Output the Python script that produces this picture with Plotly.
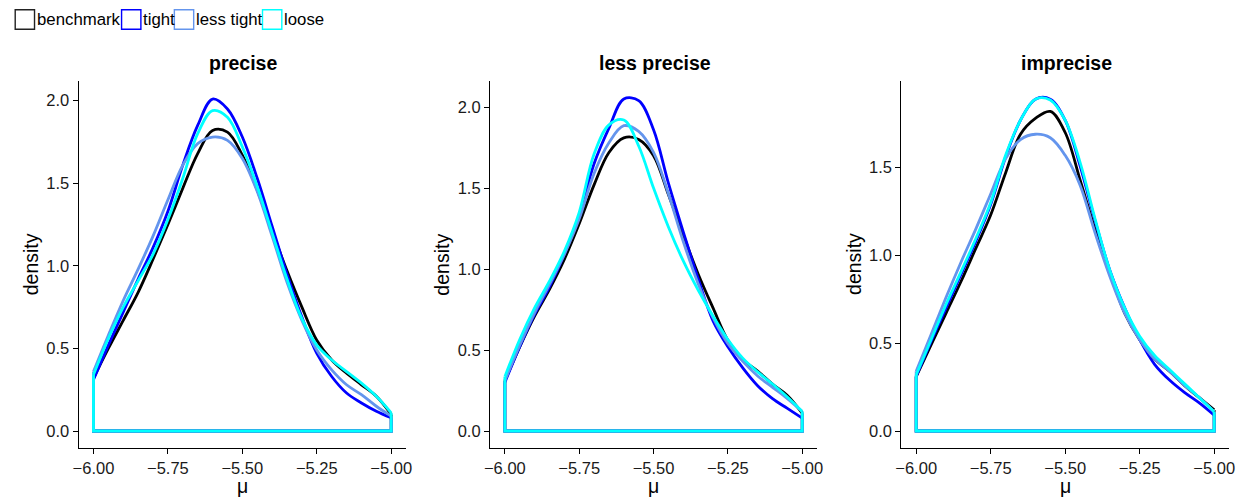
import plotly.graph_objects as go

# ---------------- data ----------------
mu_grid = [-6.00, -5.95, -5.90, -5.85, -5.80, -5.75, -5.70, -5.65, -5.60, -5.55, -5.50,
           -5.45, -5.40, -5.35, -5.30, -5.25, -5.20, -5.15, -5.10, -5.05, -5.00]

panel_titles = ["precise", "less precise", "imprecise"]
series_names = ["benchmark", "tight", "less tight", "loose"]

# precise
precise_benchmark = [0.32, 0.50, 0.67, 0.84, 1.04, 1.25, 1.47, 1.68, 1.82, 1.81, 1.67,
                     1.46, 1.21, 0.97, 0.75, 0.55, 0.43, 0.35, 0.28, 0.21, 0.10]
precise_tight = [0.31, 0.52, 0.72, 0.92, 1.11, 1.33, 1.61, 1.85, 2.01, 1.95, 1.78,
                 1.53, 1.24, 0.95, 0.69, 0.47, 0.33, 0.23, 0.17, 0.12, 0.08]
precise_less_tight = [0.36, 0.58, 0.79, 0.98, 1.18, 1.40, 1.61, 1.74, 1.78, 1.76, 1.65,
                      1.45, 1.18, 0.90, 0.67, 0.49, 0.37, 0.28, 0.22, 0.15, 0.09]
precise_loose = [0.34, 0.56, 0.75, 0.91, 1.07, 1.28, 1.53, 1.80, 1.94, 1.90, 1.72,
                 1.48, 1.20, 0.92, 0.68, 0.52, 0.43, 0.36, 0.29, 0.21, 0.11]

# less precise
less_precise_benchmark = [0.31, 0.52, 0.71, 0.875, 1.06, 1.28, 1.52, 1.72, 1.81, 1.80, 1.70,
                          1.46, 1.21, 0.97, 0.76, 0.56, 0.44, 0.37, 0.29, 0.22, 0.11]
less_precise_tight = [0.30, 0.52, 0.72, 0.89, 1.09, 1.33, 1.65, 1.87, 2.05, 2.04, 1.86,
                      1.53, 1.23, 0.94, 0.68, 0.52, 0.39, 0.28, 0.20, 0.14, 0.08]
less_precise_less_tight = [0.31, 0.53, 0.73, 0.905, 1.09, 1.31, 1.59, 1.78, 1.885, 1.85, 1.72,
                           1.465, 1.17, 0.91, 0.70, 0.54, 0.43, 0.34, 0.27, 0.20, 0.12]
less_precise_loose = [0.335, 0.565, 0.76, 0.925, 1.11, 1.35, 1.71, 1.89, 1.92, 1.76, 1.50,
                      1.26, 1.05, 0.87, 0.71, 0.565, 0.45, 0.365, 0.29, 0.21, 0.12]

# imprecise
imprecise_benchmark = [0.31, 0.49, 0.67, 0.85, 1.04, 1.23, 1.47, 1.69, 1.78, 1.82, 1.70,
                       1.43, 1.15, 0.90, 0.67, 0.52, 0.41, 0.34, 0.26, 0.19, 0.12]
imprecise_tight = [0.31, 0.51, 0.70, 0.89, 1.08, 1.29, 1.56, 1.77, 1.89, 1.89, 1.77,
                   1.51, 1.20, 0.915, 0.70, 0.52, 0.38, 0.29, 0.22, 0.16, 0.09]
imprecise_less_tight = [0.34, 0.55, 0.76, 0.96, 1.15, 1.35, 1.55, 1.66, 1.69, 1.67, 1.57,
                        1.40, 1.13, 0.88, 0.67, 0.52, 0.41, 0.34, 0.26, 0.19, 0.11]
imprecise_loose = [0.32, 0.52, 0.72, 0.905, 1.095, 1.30, 1.57, 1.77, 1.89, 1.885, 1.77,
                   1.53, 1.21, 0.915, 0.70, 0.54, 0.43, 0.35, 0.27, 0.19, 0.11]

x_ticks = [-6.00, -5.75, -5.50, -5.25, -5.00]
x_tick_labels = ["\u22126.00", "\u22125.75", "\u22125.50", "\u22125.25", "\u22125.00"]
y_ticks_12 = [0.0, 0.5, 1.0, 1.5, 2.0]
y_ticks_3 = [0.0, 0.5, 1.0, 1.5]

panel_data = [
    [precise_benchmark, precise_tight, precise_less_tight, precise_loose],
    [less_precise_benchmark, less_precise_tight, less_precise_less_tight, less_precise_loose],
    [imprecise_benchmark, imprecise_tight, imprecise_less_tight, imprecise_loose],
]
panel_yticks = [y_ticks_12, y_ticks_12, y_ticks_3]

# ---------------- styling ----------------
W, H = 1244, 497
colors = ["#000000", "#0000FF", "#6495ED", "#00FFFF"]
FONT = "Liberation Sans, Arial, Helvetica, sans-serif"
panel_left_px = [73.3, 488.7, 904.0]
panel_right_px = [404.0, 819.0, 1235.0]
top_px, bottom_px = 80.7, 447.7


def px_x(p):
    return p / W


def px_y(p):
    return 1 - p / H


fig = go.Figure()

for i, series_list in enumerate(panel_data):
    ax = "" if i == 0 else str(i + 1)
    for name, vals, col in zip(series_names, series_list, colors):
        # closing part of the density polygon (vertical edges + baseline)
        fig.add_trace(go.Scatter(
            x=[mu_grid[0], mu_grid[0], mu_grid[-1], mu_grid[-1]],
            y=[vals[0], 0, 0, vals[-1]],
            mode="lines", line=dict(color=col, width=2.8),
            xaxis="x" + ax, yaxis="y" + ax, showlegend=False, hoverinfo="skip"))
        fig.add_trace(go.Scatter(
            x=mu_grid, y=vals, mode="lines",
            line=dict(color=col, width=2.8, shape="spline", smoothing=1.0),
            xaxis="x" + ax, yaxis="y" + ax, name=name, showlegend=False))

axis_common = dict(showline=True, linecolor="black", linewidth=1.1, ticks="outside",
                   ticklen=5, tickwidth=1.1, tickcolor="black", showgrid=False,
                   zeroline=False, tickfont=dict(family=FONT, size=16.5, color="#1a1a1a"))

annotations = []
for i in range(3):
    ax = "" if i == 0 else str(i + 1)
    ymax = max(max(v) for v in panel_data[i]) + 0.01
    xspan = mu_grid[-1] - mu_grid[0]
    xr = [mu_grid[0] - 0.05 * xspan, mu_grid[-1] + 0.05 * xspan]
    yr = [-0.05 * ymax, 1.05 * ymax]
    fig.update_layout(**{
        "xaxis" + ax: dict(domain=[px_x(panel_left_px[i]), px_x(panel_right_px[i])],
                           range=xr, tickvals=x_ticks, ticktext=x_tick_labels,
                           anchor="y" + ax, **axis_common),
        "yaxis" + ax: dict(domain=[px_y(bottom_px), px_y(top_px)], range=yr,
                           tickvals=panel_yticks[i], tickformat=".1f",
                           anchor="x" + ax, **axis_common),
    })
    cx = (panel_left_px[i] + panel_right_px[i]) / 2
    annotations.append(dict(text="<b>" + panel_titles[i] + "</b>", x=px_x(cx + 1), y=px_y(63),
                            xref="paper", yref="paper", xanchor="center", yanchor="middle",
                            showarrow=False, font=dict(family=FONT, size=19.5, color="black")))
    annotations.append(dict(text="density", x=px_x(panel_left_px[i] - 48), y=px_y((top_px + bottom_px) / 2),
                            xref="paper", yref="paper", xanchor="center", yanchor="middle",
                            textangle=-90, showarrow=False,
                            font=dict(family=FONT, size=19.5, color="black")))
    annotations.append(dict(text="μ", x=px_x(cx), y=px_y(486),
                            xref="paper", yref="paper", xanchor="center", yanchor="middle",
                            showarrow=False, font=dict(family=FONT, size=19.5, color="black")))

# manual legend (outlined keys like the original)
legend_key_left = [9.3, 116.7, 170.0, 259.0]
legend_key_size = 19.5
legend_y_top = 9.7
shapes = []
for name, col, kx in zip(series_names, colors, legend_key_left):
    shapes.append(dict(type="rect", xref="paper", yref="paper",
                       x0=px_x(kx), x1=px_x(kx + legend_key_size),
                       y0=px_y(legend_y_top + legend_key_size), y1=px_y(legend_y_top),
                       line=dict(color=col if col != "#000000" else "#222222", width=1.4),
                       fillcolor="white"))
    annotations.append(dict(text=name, x=px_x(kx + legend_key_size + 0.6), y=px_y(legend_y_top + legend_key_size / 2),
                            xref="paper", yref="paper", xanchor="left", yanchor="middle",
                            showarrow=False, font=dict(family=FONT, size=16.8, color="black")))

fig.update_layout(width=W, height=H, margin=dict(l=0, r=0, t=0, b=0),
                  plot_bgcolor="white", paper_bgcolor="white",
                  annotations=annotations, shapes=shapes, showlegend=False)

fig.write_html("out.html")
